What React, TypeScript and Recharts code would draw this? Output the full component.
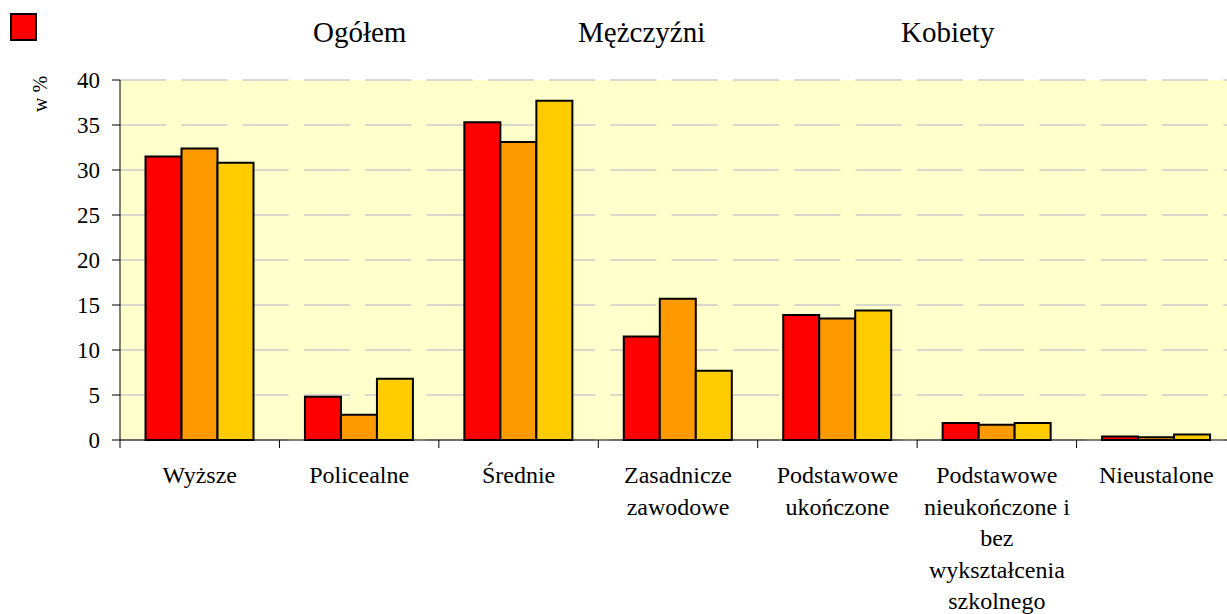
import React from 'react';
import { BarChart, Bar, XAxis, YAxis, CartesianGrid } from 'recharts';

const categories = [
  'Wyższe',
  'Policealne',
  'Średnie',
  'Zasadnicze\nzawodowe',
  'Podstawowe\nukończone',
  'Podstawowe\nnieukończone i\nbez\nwykształcenia\nszkolnego',
  'Nieustalone',
];
const ogolem = [31.5, 4.8, 35.3, 11.5, 13.9, 1.9, 0.4];
const mezczyzni = [32.4, 2.8, 33.1, 15.7, 13.5, 1.7, 0.3];
const kobiety = [30.8, 6.8, 37.7, 7.7, 14.4, 1.9, 0.6];
const seriesNames = ['Ogółem', 'Mężczyźni', 'Kobiety'];
const seriesColors = ['#FF0000', '#FF9900', '#FFCC00'];
const yTicks = [0, 5, 10, 15, 20, 25, 30, 35, 40];

const data = categories.map((c, i) => ({
  category: c,
  ogolem: ogolem[i],
  mezczyzni: mezczyzni[i],
  kobiety: kobiety[i],
}));

const FONT = "'Liberation Serif', 'Times New Roman', serif";

const XTick = (props: any) => {
  const { x, y, payload } = props;
  const off = payload && payload.offset ? payload.offset : 0;
  const lines = String(payload.value).split('\n');
  return (
    <g>
      <line x1={x - off} x2={x - off} y1={y - 8} y2={y} stroke="#000" strokeWidth={1} />
      <text x={x} y={y} textAnchor="middle" style={{ fontFamily: FONT, fontSize: 24 }} fill="#000">
        {lines.map((l, i) => (
          <tspan key={i} x={x} dy={i === 0 ? 35 : 31.5}>
            {l}
          </tspan>
        ))}
      </text>
    </g>
  );
};

const YTick = (props: any) => {
  const { x, y, payload } = props;
  return (
    <text x={x} y={y} dy={8} textAnchor="end" style={{ fontFamily: FONT, fontSize: 23 }} fill="#000">
      {payload.value}
    </text>
  );
};

const legendLefts = [313, 578, 901];

export default function App() {
  return (
    <div
      style={{
        position: 'absolute',
        left: 0,
        top: 0,
        width: 1227,
        height: 614,
        overflow: 'hidden',
        background: '#fff',
        fontFamily: FONT,
      }}
    >
      <BarChart
        width={1240}
        height={614}
        data={data}
        margin={{ top: 80, right: 4, left: 0, bottom: 4 }}
        barCategoryGap="16%"
        barGap={0}
        style={{ fontFamily: FONT }}
      >
        <CartesianGrid
          vertical={false}
          stroke="#cccccc"
          strokeWidth={1.5}
          strokeDasharray="46 15.3"
          fill="#FFFFCC"
        />
        <XAxis
          dataKey="category"
          interval={0}
          height={170}
          tickLine={false}
          tickSize={8}
          tickMargin={0}
          axisLine={{ stroke: '#000', strokeWidth: 1 }}
          tick={<XTick />}
        />
        <YAxis
          domain={[0, 40]}
          ticks={yTicks}
          width={120}
          tickSize={8}
          tickMargin={12}
          axisLine={{ stroke: '#000', strokeWidth: 1 }}
          tickLine={{ stroke: '#000', strokeWidth: 1 }}
          tick={<YTick />}
          interval={0}
        />
        <Bar dataKey="ogolem" name={seriesNames[0]} fill={seriesColors[0]} stroke="#000" strokeWidth={2} isAnimationActive={false} />
        <Bar dataKey="mezczyzni" name={seriesNames[1]} fill={seriesColors[1]} stroke="#000" strokeWidth={2} isAnimationActive={false} />
        <Bar dataKey="kobiety" name={seriesNames[2]} fill={seriesColors[2]} stroke="#000" strokeWidth={2} isAnimationActive={false} />
      </BarChart>

      <div
        style={{
          position: 'absolute',
          left: 10,
          top: 13,
          width: 23,
          height: 24,
          background: seriesColors[0],
          border: '2px solid #000',
        }}
      />
      {seriesNames.map((n, i) => (
        <div
          key={n}
          style={{
            position: 'absolute',
            left: legendLefts[i],
            top: 14,
            fontSize: 29,
            lineHeight: '36px',
            color: '#000',
            whiteSpace: 'nowrap',
          }}
        >
          {n}
        </div>
      ))}
      <div
        style={{
          position: 'absolute',
          left: 40,
          top: 94,
          transform: 'translate(-50%, -50%) rotate(-90deg)',
          fontSize: 20,
          color: '#000',
          whiteSpace: 'nowrap',
        }}
      >
        w %
      </div>
    </div>
  );
}
